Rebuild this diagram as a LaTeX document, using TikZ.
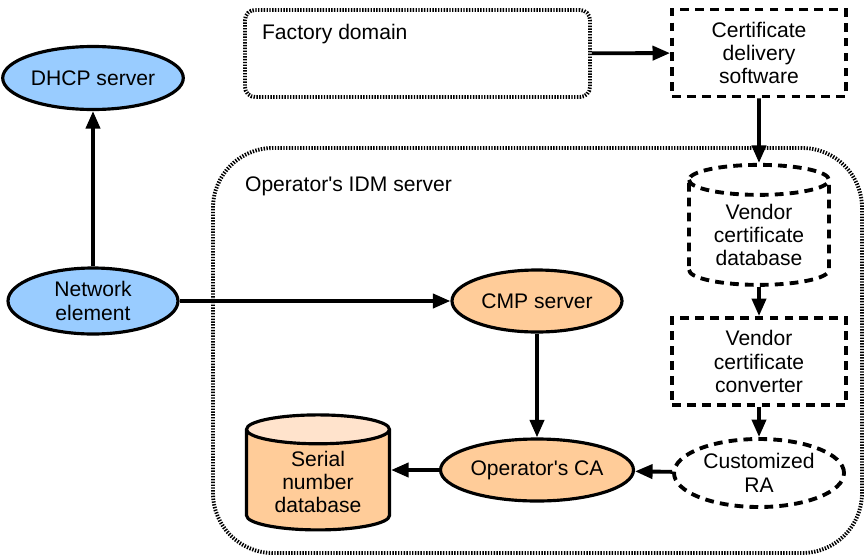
\documentclass[tikz,border=0pt]{standalone}
\usepackage{fontspec}
\setmainfont{Liberation Sans}
\usetikzlibrary{arrows.meta,shapes.geometric}

\definecolor{bluebox}{HTML}{99CCFF}
\definecolor{orangebox}{HTML}{FFCC99}
\definecolor{orangetop}{HTML}{FFE3CC}

\begin{document}
\begin{tikzpicture}[
    font=\fontsize{12}{13.3}\selectfont,
    every node/.style={align=center, inner sep=1pt},
    arr/.style={line width=2.2pt, -{Triangle[length=10pt,width=8pt]}},
    dotbox/.style={draw, line width=2.2pt, dash pattern=on 0.8pt off 0.8pt},
    dashbox/.style={draw, line width=2.2pt, dash pattern=on 5pt off 3.5pt},
    host/.style={ellipse, draw, line width=1.8pt, fill=bluebox,
                 minimum width=3.4cm, minimum height=1.26cm},
    srv/.style={ellipse, draw, line width=1.8pt, fill=orangebox,
                minimum width=3.4cm, minimum height=1.24cm},
    db/.style={cylinder, shape border rotate=90, aspect=0.32},
    ]
  \useasboundingbox (0,0) rectangle (17.3,-11.14);

  \node[dotbox, rounded corners=0.2cm, minimum width=6.9cm, minimum height=1.74cm]
    (factory) at (8.35,-1.07) {};
  \node[anchor=west] (factorylbl) at (5.2,-0.68) {Factory domain};
  \node[dotbox, rounded corners=1.2cm, minimum width=12.98cm, minimum height=8.1cm]
    (idm) at (10.75,-7.01) {};
  \node[anchor=west] (idmlbl) at (4.86,-3.72) {Operator\textquotesingle s IDM server};

  \node[dashbox, minimum width=3.48cm, minimum height=1.74cm]
    (cds) at (15.18,-1.06) {Certificate\\delivery\\software};
  \node[db, dashbox, minimum width=2.8cm, minimum height=2.4cm]
    (vdb) at (15.18,-4.7) {Vendor\\certificate\\database};
  \node[dashbox, minimum width=3.48cm, minimum height=1.74cm]
    (vconv) at (15.18,-7.23) {Vendor\\certificate\\converter};
  \node[ellipse, dashbox, minimum width=3.4cm, minimum height=1.36cm]
    (ra) at (15.18,-9.46) {Customized\\RA};

  \node[host] (dhcp) at (1.86,-1.56) {DHCP server};
  \node[host, minimum height=1.32cm] (ne) at (1.86,-6.02) {Network\\element};

  \node[srv] (cmp) at (10.74,-6.02) {CMP server};
  \node[srv] (ca) at (10.74,-9.4) {Operator\textquotesingle s CA};
  \node[db, draw, line width=1.8pt, cylinder uses custom fill,
        cylinder body fill=orangebox, cylinder end fill=orangetop,
        minimum width=2.86cm, minimum height=2.3cm]
    (sndb) at (6.36,-9.64) {Serial\\number\\database};

  \draw[arr] (ne) -- (dhcp);
  \draw[arr] (ne) -- (cmp);
  \draw[arr] (cmp) -- (ca);
  \draw[arr] (ca.west) -- (ca.west -| sndb.east);
  \draw[arr] (ra) -- (ca);
  \draw[arr] (factory) -- (cds);
  \draw[arr] (cds) -- (vdb);
  \draw[arr] (vdb) -- (vconv);
  \draw[arr] (vconv) -- (ra);
\end{tikzpicture}
\end{document}
